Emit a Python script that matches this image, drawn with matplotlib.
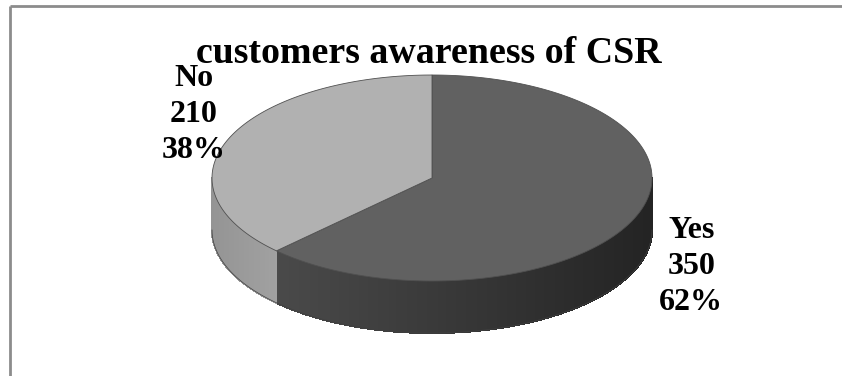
import numpy as np
import matplotlib
matplotlib.use('Agg')
import matplotlib.pyplot as plt
from matplotlib.patches import Polygon
from matplotlib.collections import PolyCollection

# data
labels = ['Yes', 'No']
values = [350, 210]
title = 'customers awareness of CSR'

top_colors = ['#616161', '#b1b1b1']
side_shade = [(0.29, 0.14), (0.58, 0.63)]  # gray level left -> right on the side wall

# pie layout in pixel units
CX, CY = 432, 178
RX, RY = 220, 103
DEPTH = 52


def pt(t, dy=0):
    return CX + RX * np.cos(t), CY - RY * np.sin(t) + dy


plt.rcParams['font.family'] = ['Liberation Serif', 'DejaVu Serif']
fig = plt.figure(figsize=(8.42, 3.76), dpi=100)
ax = fig.add_axes([0, 0, 1, 1])
ax.set_xlim(0, 842)
ax.set_ylim(376, 0)
ax.axis('off')

# frame, only top and left edges are inside the picture
ax.plot([10, 842], [6, 6], color='#8c8c8c', linewidth=2, solid_capstyle='butt')
ax.plot([10, 10], [6, 376], color='#8c8c8c', linewidth=2, solid_capstyle='butt')

total = float(sum(values))
fracs = [v / total for v in values]

# wedges go clockwise from 12 o'clock
bounds = []
start = np.pi / 2
for f in fracs:
    end = start - 2 * np.pi * f
    bounds.append((start, end))
    start = end

# side walls (only front half, where sin < 0)
for i, (a0, a1) in enumerate(bounds):
    lo, hi = min(a0, a1), max(a0, a1)
    segs = []
    for shift in (0, 2 * np.pi, -2 * np.pi):
        s0, s1 = max(lo + shift, -np.pi), min(hi + shift, 0)
        if s1 > s0:
            segs.append((s0, s1))
    for s0, s1 in segs:
        ts = np.linspace(s0, s1, 200)
        xl, _ = pt(s0)
        xr, _ = pt(s1)
        polys, cols = [], []
        for ta, tb in zip(ts[:-1], ts[1:]):
            xa, ya = pt(ta)
            xb, yb = pt(tb)
            polys.append([(xa, ya), (xb, yb), (xb, yb + DEPTH), (xa, ya + DEPTH)])
            k = ((xa + xb) / 2 - xl) / max(xr - xl, 1)
            g = side_shade[i][0] + (side_shade[i][1] - side_shade[i][0]) * k
            cols.append((g, g, g))
        ax.add_collection(PolyCollection(polys, facecolors=cols, edgecolors=cols,
                                         linewidths=0.8, antialiased=False))

# outline of the bottom rim
tb = np.linspace(-np.pi, 0, 200)
ax.plot(*pt(tb, DEPTH), color='#404040', linewidth=0.5)

# top faces
for i, (a0, a1) in enumerate(bounds):
    ts = np.linspace(a0, a1, 300)
    xs, ys = pt(ts)
    verts = [(CX, CY)] + list(zip(xs, ys))
    ax.add_patch(Polygon(verts, closed=True, facecolor=top_colors[i],
                         edgecolor='#505050', linewidth=0.6))

# data labels, placed beside the middle of each wedge rim
offsets = [(56, 49), (-35, -24)]
for i, (a0, a1) in enumerate(bounds):
    mid = (a0 + a1) / 2
    mx, my = pt(mid)
    pct = '{:.0f}%'.format(fracs[i] * 100)
    ax.text(mx + offsets[i][0], my + offsets[i][1],
            '{}\n{}\n{}'.format(labels[i], values[i], pct),
            ha='center', va='center', fontsize=23, fontweight='bold',
            linespacing=1.32, color='black')

fig.text(429 / 842, 1 - 63 / 376, title, ha='center', va='baseline',
         fontsize=27.3, fontweight='bold', color='black')

fig.savefig('out.png', dpi=100, facecolor='white')
